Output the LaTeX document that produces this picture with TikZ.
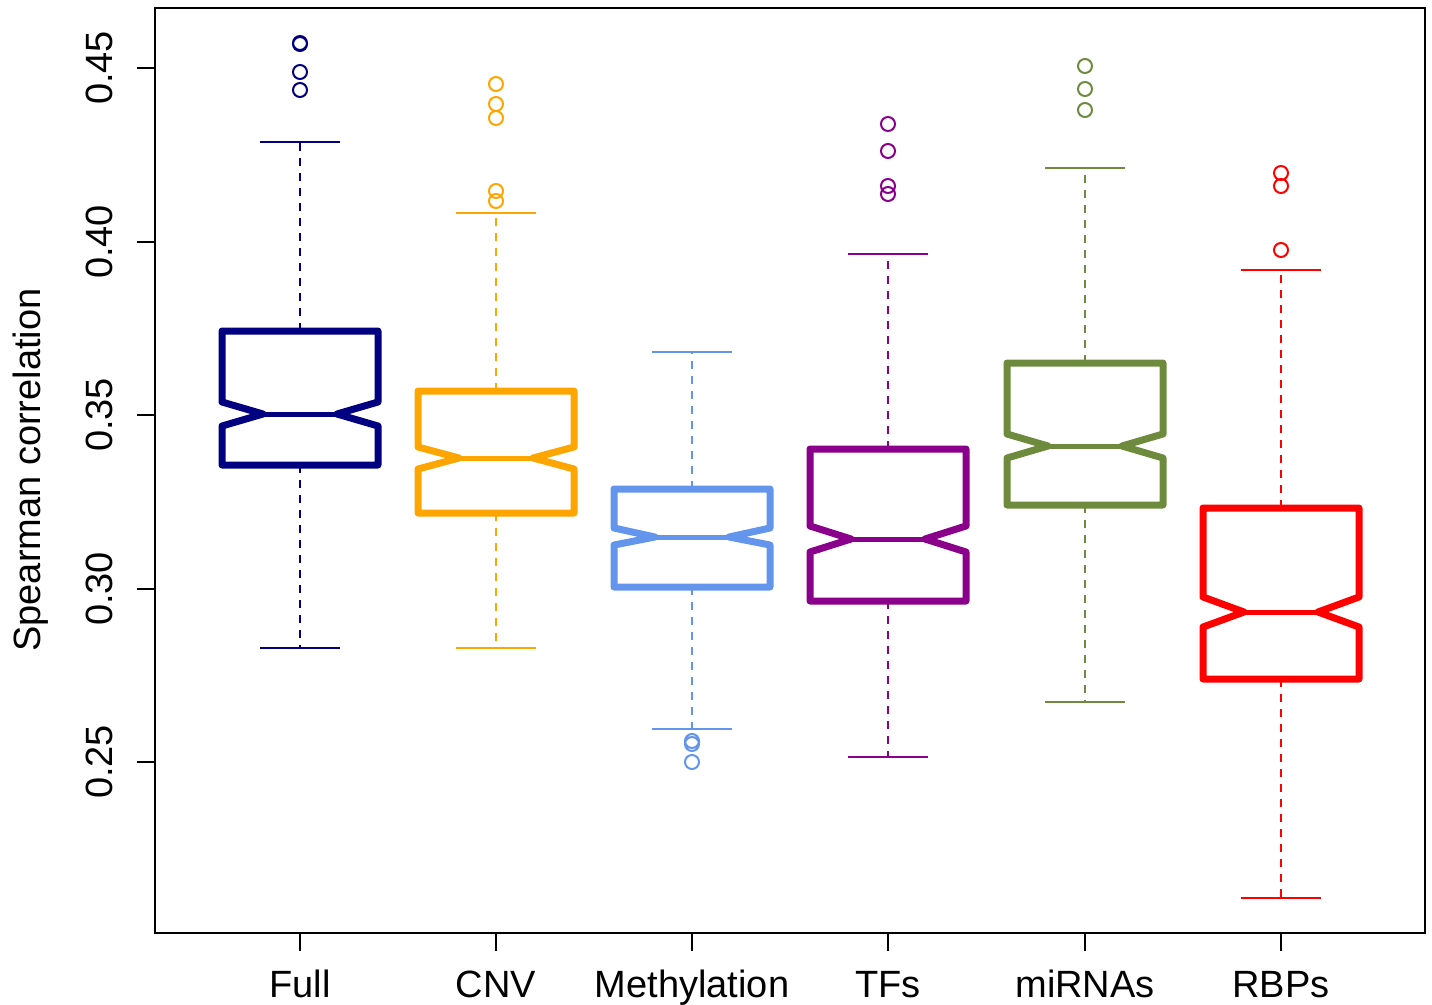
\documentclass[tikz,border=0pt]{standalone}
\usepackage{fontspec}
\setmainfont{Liberation Sans}
\definecolor{cfull}{RGB}{0,0,128}
\definecolor{ccnv}{RGB}{255,165,0}
\definecolor{cmeth}{RGB}{100,149,237}
\definecolor{ctfs}{RGB}{139,0,139}
\definecolor{cmir}{RGB}{110,139,61}
\definecolor{crbp}{RGB}{255,0,0}

\begin{document}
\begin{tikzpicture}[x=1pt,y=-1pt,
        lab/.style={font=\fontsize{38}{46}\selectfont,inner sep=0pt},
        nbox/.style={line width=7pt,line join=round},
        medline/.style={line width=5pt},
        whisk/.style={line width=2pt,dash pattern=on 8pt off 7pt},
        wcap/.style={line width=2pt},
        outl/.style={line width=2pt},
        axis/.style={line width=2pt}]
        \useasboundingbox (0,0) rectangle (1432,1004);

        \draw[axis] (155,8) rectangle (1425,933);

        \node[lab,rotate=90,anchor=base] (l45) at (112,68) {0.45};
        \node[lab,rotate=90,anchor=base] (l40) at (112,242) {0.40};
        \node[lab,rotate=90,anchor=base] (l35) at (112,415) {0.35};
        \node[lab,rotate=90,anchor=base] (l30) at (112,589) {0.30};
        \node[lab,rotate=90,anchor=base] (l25) at (112,762) {0.25};
        \draw[axis] (137,68) -- (155,68);
        \draw[axis] (137,242) -- (155,242);
        \draw[axis] (137,415) -- (155,415);
        \draw[axis] (137,589) -- (155,589);
        \draw[axis] (137,762) -- (155,762);
        \node[lab,rotate=90,anchor=base] (ylab) at (40,470) {Spearman correlation};

        \node[lab,anchor=base] (full) at (300,997) {Full};
        \node[lab,anchor=base] (cnv) at (496,997) {CNV};
        \node[lab,anchor=base] (meth) at (692,997) {Methylation};
        \node[lab,anchor=base] (tfs) at (888,997) {TFs};
        \node[lab,anchor=base] (mir) at (1085,997) {miRNAs};
        \node[lab,anchor=base] (rbp) at (1281,997) {RBPs};
        \draw[axis] (300,933) -- (300,951);
        \draw[axis] (496,933) -- (496,951);
        \draw[axis] (692,933) -- (692,951);
        \draw[axis] (888,933) -- (888,951);
        \draw[axis] (1085,933) -- (1085,951);
        \draw[axis] (1281,933) -- (1281,951);

        \draw[cfull,whisk] (300,331) -- (300,142);
        \draw[cfull,whisk] (300,465) -- (300,648);
        \draw[cfull,wcap] (260,142) -- (340,142);
        \draw[cfull,wcap] (260,648) -- (340,648);
        \draw[cfull,nbox] (222,331) -- (378,331) -- (378,402) -- (337,414) -- (378,426) -- (378,465)
          -- (222,465) -- (222,426) -- (263,414) -- (222,402) -- cycle;
        \draw[cfull,medline] (263,414) -- (337,414);
        \draw[cfull,outl] (300,43) circle[radius=7pt] (300,44) circle[radius=7pt]
          (300,72) circle[radius=7pt] (300,90) circle[radius=7pt];

        \draw[ccnv,whisk] (496,391) -- (496,213);
        \draw[ccnv,whisk] (496,513) -- (496,648);
        \draw[ccnv,wcap] (456,213) -- (536,213);
        \draw[ccnv,wcap] (456,648) -- (536,648);
        \draw[ccnv,nbox] (418,391) -- (574,391) -- (574,447) -- (533,458) -- (574,469) -- (574,513)
          -- (418,513) -- (418,469) -- (459,458) -- (418,447) -- cycle;
        \draw[ccnv,medline] (459,458) -- (533,458);
        \draw[ccnv,outl] (496,84) circle[radius=7pt] (496,104) circle[radius=7pt]
          (496,118) circle[radius=7pt] (496,191) circle[radius=7pt] (496,201) circle[radius=7pt];

        \draw[cmeth,whisk] (692,489) -- (692,352);
        \draw[cmeth,whisk] (692,587) -- (692,729);
        \draw[cmeth,wcap] (652,352) -- (732,352);
        \draw[cmeth,wcap] (652,729) -- (732,729);
        \draw[cmeth,nbox] (614,489) -- (770,489) -- (770,528) -- (729,537) -- (770,545) -- (770,587)
          -- (614,587) -- (614,545) -- (655,537) -- (614,528) -- cycle;
        \draw[cmeth,medline] (655,537) -- (729,537);
        \draw[cmeth,outl] (692,741) circle[radius=7pt] (692,744) circle[radius=7pt]
          (692,762) circle[radius=7pt];

        \draw[ctfs,whisk] (888,449) -- (888,254);
        \draw[ctfs,whisk] (888,601) -- (888,757);
        \draw[ctfs,wcap] (848,254) -- (928,254);
        \draw[ctfs,wcap] (848,757) -- (928,757);
        \draw[ctfs,nbox] (810,449) -- (966,449) -- (966,526) -- (925,539) -- (966,552) -- (966,601)
          -- (810,601) -- (810,552) -- (851,539) -- (810,526) -- cycle;
        \draw[ctfs,medline] (851,539) -- (925,539);
        \draw[ctfs,outl] (888,124) circle[radius=7pt] (888,151) circle[radius=7pt]
          (888,186) circle[radius=7pt] (888,194) circle[radius=7pt];

        \draw[cmir,whisk] (1085,363) -- (1085,168);
        \draw[cmir,whisk] (1085,505) -- (1085,702);
        \draw[cmir,wcap] (1045,168) -- (1125,168);
        \draw[cmir,wcap] (1045,702) -- (1125,702);
        \draw[cmir,nbox] (1007,363) -- (1163,363) -- (1163,434) -- (1122,446) -- (1163,458) -- (1163,505)
          -- (1007,505) -- (1007,458) -- (1048,446) -- (1007,434) -- cycle;
        \draw[cmir,medline] (1048,446) -- (1122,446);
        \draw[cmir,outl] (1085,66) circle[radius=7pt] (1085,89) circle[radius=7pt]
          (1085,110) circle[radius=7pt];

        \draw[crbp,whisk] (1281,508) -- (1281,270);
        \draw[crbp,whisk] (1281,679) -- (1281,898);
        \draw[crbp,wcap] (1241,270) -- (1321,270);
        \draw[crbp,wcap] (1241,898) -- (1321,898);
        \draw[crbp,nbox] (1203,508) -- (1359,508) -- (1359,597) -- (1318,612) -- (1359,627) -- (1359,679)
          -- (1203,679) -- (1203,627) -- (1244,612) -- (1203,597) -- cycle;
        \draw[crbp,medline] (1244,612) -- (1318,612);
        \draw[crbp,outl] (1281,173) circle[radius=7pt] (1281,186) circle[radius=7pt]
          (1281,250) circle[radius=7pt];
      \end{tikzpicture}
\end{document}
